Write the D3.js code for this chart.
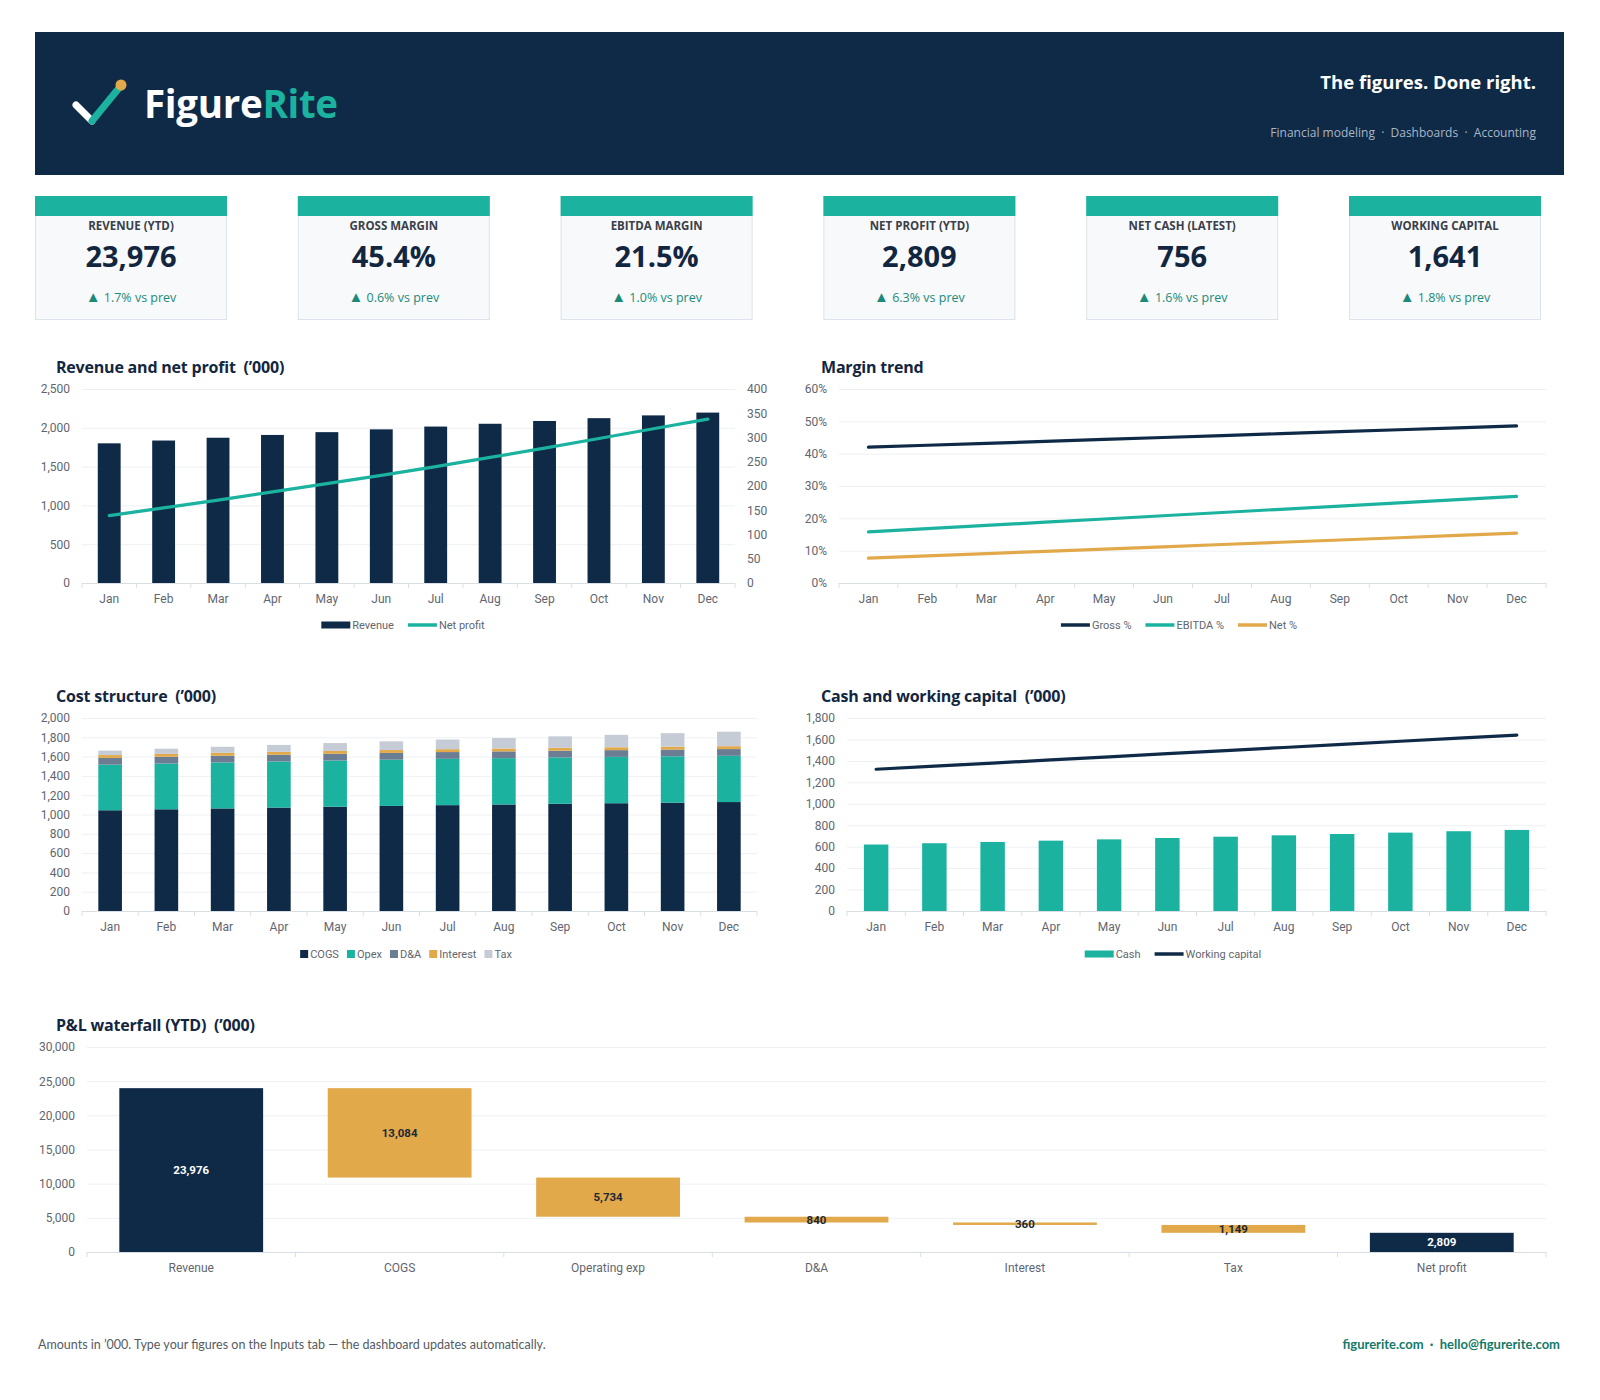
<!DOCTYPE html>
<html>
<head>
<meta charset="utf-8">
<script src="https://cdn.jsdelivr.net/npm/d3@7"></script>
<style>
  body { margin: 0; background: #fff; }
  svg { display: block; }
  text { white-space: pre; }
</style>
</head>
<body>
<div id="body"></div>
<script>
// data
const months = ['Jan', 'Feb', 'Mar', 'Apr', 'May', 'Jun', 'Jul', 'Aug', 'Sep', 'Oct', 'Nov', 'Dec'];
const revenue = [1800, 1836, 1872, 1908, 1944, 1980, 2016, 2052, 2088, 2124, 2160, 2196];
const netProfit = [139, 155, 171, 188, 205, 222, 240, 259, 278, 298, 318, 338];
const grossPct = [42.0, 42.6, 43.2, 43.8, 44.4, 45.0, 45.6, 46.2, 46.8, 47.4, 48.0, 48.6];
const ebitdaPct = [15.8, 16.8, 17.8, 18.8, 19.8, 20.8, 21.8, 22.8, 23.8, 24.8, 25.8, 26.8];
const netPct = [7.7, 8.4, 9.1, 9.8, 10.5, 11.2, 11.9, 12.6, 13.3, 14.0, 14.7, 15.4];
const cogs = [1044, 1054, 1063, 1072, 1081, 1089, 1097, 1104, 1111, 1117, 1123, 1129];
const opex = [472, 474, 476, 477, 478, 479, 480, 480, 480, 480, 480, 479];
const depAm = [70, 70, 70, 70, 70, 70, 70, 70, 70, 70, 70, 70];
const interest = [30, 30, 30, 30, 30, 30, 30, 30, 30, 30, 30, 30];
const tax = [46, 54, 63, 72, 81, 90, 100, 109, 119, 129, 140, 150];
const cash = [620, 632, 644, 656, 668, 681, 693, 706, 718, 731, 744, 756];
const workingCap = [1322, 1351, 1380, 1409, 1438, 1467, 1496, 1525, 1554, 1583, 1612, 1641];

const wfCategories = ['Revenue', 'COGS', 'Operating exp', 'D&A', 'Interest', 'Tax', 'Net profit'];
const wfValues = [23976, 13084, 5734, 840, 360, 1149, 2809];
const wfKind = ['total', 'down', 'down', 'down', 'down', 'down', 'total'];

const kpiLabels = ['REVENUE (YTD)', 'GROSS MARGIN', 'EBITDA MARGIN', 'NET PROFIT (YTD)', 'NET CASH (LATEST)', 'WORKING CAPITAL'];
const kpiValues = ['23,976', '45.4%', '21.5%', '2,809', '756', '1,641'];
const kpiDeltas = ['1.7%', '0.6%', '1.0%', '6.3%', '1.6%', '1.8%'];

const navy = '#0f2a47';
const teal = '#1bb3a0';
const gold = '#e2a94b';
const slate = '#6b7d92';
const mist = '#c6ccd6';
const narrow = "'Liberation Sans Narrow', 'Arial Narrow', Roboto, sans-serif";
const ui = "'Open Sans', 'Noto Sans', sans-serif";

const svg = d3.select('#body')
    .append('svg')
    .attr('width', 1600)
    .attr('height', 1400)
    .style('background', '#fff');

// Header band
function makeHeader () {
  svg.append('rect')
      .attr('x', 35).attr('y', 32)
      .attr('width', 1529).attr('height', 143)
      .attr('fill', navy);

  // tick mark logo
  svg.append('line')
      .attr('x1', 76).attr('y1', 105).attr('x2', 92).attr('y2', 121)
      .attr('stroke', '#fff').attr('stroke-width', 7).attr('stroke-linecap', 'round');
  svg.append('line')
      .attr('x1', 92).attr('y1', 121).attr('x2', 119).attr('y2', 88)
      .attr('stroke', teal).attr('stroke-width', 7).attr('stroke-linecap', 'round');
  svg.append('circle')
      .attr('cx', 121).attr('cy', 85).attr('r', 5.5)
      .attr('fill', gold);

  const brand = svg.append('text')
      .attr('x', 144).attr('y', 118)
      .attr('font-family', ui).attr('font-weight', 700).attr('font-size', 38.5)
      .attr('letter-spacing', -0.3)
      .attr('fill', '#fff');
  brand.append('tspan').text('Figure');
  brand.append('tspan').attr('fill', teal).text('Rite');

  svg.append('text')
      .attr('x', 1536).attr('y', 89)
      .attr('text-anchor', 'end')
      .attr('font-family', ui).attr('font-weight', 700).attr('font-size', 18.5)
      .attr('fill', '#fff')
      .text('The figures. Done right.');

  svg.append('text')
      .attr('x', 1536).attr('y', 137)
      .attr('text-anchor', 'end')
      .attr('font-family', ui).attr('font-size', 12)
      .attr('fill', '#a9b6c6')
      .text('Financial modeling  \u00b7  Dashboards  \u00b7  Accounting');
}

// KPI cards
function makeCards () {
  const xCard = d3.scaleBand().domain(kpiLabels).range([35, 1540 + 71.8]).paddingInner(0);
  kpiLabels.forEach(function (label, i) {
    const g = svg.append('g').attr('transform', 'translate(' + xCard(label) + ',196)');
    g.append('rect')
        .attr('x', 0.5).attr('y', 0.5).attr('width', 191).attr('height', 123)
        .attr('fill', '#f7f9fb').attr('stroke', '#dde3ea');
    g.append('rect')
        .attr('x', 0).attr('y', 0).attr('width', 192).attr('height', 20)
        .attr('fill', teal);
    g.append('text')
        .attr('x', 96).attr('y', 34)
        .attr('text-anchor', 'middle')
        .attr('font-family', ui).attr('font-weight', 700).attr('font-size', 11.5)
        .attr('fill', '#3a4049')
        .text(label);
    g.append('text')
        .attr('x', 96).attr('y', 71)
        .attr('text-anchor', 'middle')
        .attr('font-family', ui).attr('font-weight', 700).attr('font-size', 29)
        .attr('fill', '#12263f')
        .text(kpiValues[i]);
    const d = g.append('text')
        .attr('x', 96).attr('y', 106)
        .attr('text-anchor', 'middle')
        .attr('font-family', ui).attr('font-size', 12.5)
        .attr('fill', '#1c8a7a');
    d.append('tspan').attr('font-size', 15).text('\u25B2');
    d.append('tspan').text(' ' + kpiDeltas[i] + ' vs prev');
  });
}

function chartTitle (x, y, text) {
  svg.append('text')
      .attr('x', x).attr('y', y)
      .attr('font-family', ui).attr('font-weight', 700).attr('font-size', 16)
      .attr('letter-spacing', -0.2)
      .attr('fill', '#12263f')
      .text(text);
}

function styleAxis (g) {
  g.select('.domain').remove();
  g.selectAll('text')
      .attr('font-family', narrow).attr('font-size', 12)
      .attr('fill', '#5f6670');
}

// y gridlines + left labels
function leftAxis (x0, x1, y, ticks, fmt) {
  svg.append('g')
      .attr('transform', 'translate(' + x0 + ',0)')
      .call(d3.axisLeft(y).tickValues(ticks).tickSize(-(x1 - x0)).tickFormat(''))
      .call(function (g) {
        g.select('.domain').remove();
        g.selectAll('line').attr('stroke', '#eef0f3');
      });
  svg.append('g')
      .attr('transform', 'translate(' + x0 + ',0)')
      .call(d3.axisLeft(y).tickValues(ticks).tickSize(0).tickPadding(12).tickFormat(fmt))
      .call(styleAxis);
}

// baseline with category boundary ticks
function bottomAxis (x, y0) {
  const r = x.range();
  svg.append('line')
      .attr('x1', r[0]).attr('x2', r[1]).attr('y1', y0 + 0.5).attr('y2', y0 + 0.5)
      .attr('stroke', '#d9dee5').attr('stroke-width', 1.2);
  const edges = x.domain().map(function (d) { return x(d); }).concat([r[1]]);
  svg.append('g').selectAll('line')
      .data(edges)
      .join('line')
      .attr('x1', function (d) { return d; }).attr('x2', function (d) { return d; })
      .attr('y1', y0).attr('y2', y0 + 5)
      .attr('stroke', '#d9dee5');
  svg.append('g')
      .attr('transform', 'translate(0,' + y0 + ')')
      .call(d3.axisBottom(x).tickSize(0).tickPadding(11))
      .call(styleAxis);
}

// legend centered at cx
function legend (cx, cy, items) {
  const g = svg.append('g');
  let pos = 0;
  items.forEach(function (it) {
    const sw = it.type === 'square' ? 8 : 29;
    if (it.type === 'line') {
      g.append('line')
          .attr('x1', pos).attr('x2', pos + sw).attr('y1', cy).attr('y2', cy)
          .attr('stroke', it.color).attr('stroke-width', 3.5);
    } else if (it.type === 'square') {
      g.append('rect')
          .attr('x', pos).attr('y', cy - 4).attr('width', 8).attr('height', 8)
          .attr('fill', it.color);
    } else {
      g.append('rect')
          .attr('x', pos).attr('y', cy - 3.5).attr('width', sw).attr('height', 7)
          .attr('fill', it.color);
    }
    const t = g.append('text')
        .attr('x', pos + sw + 2).attr('y', cy + 4)
        .attr('font-family', narrow).attr('font-size', 11)
        .attr('fill', '#5f6670')
        .text(it.label);
    pos += sw + 2 + t.node().getComputedTextLength() + (it.type === 'square' ? 8 : 14);
  });
  g.attr('transform', 'translate(' + (cx - pos / 2) + ',0)');
}

// Revenue and net profit
function revenueChart () {
  chartTitle(56, 373, 'Revenue and net profit  (\u2019000)');
  const x = d3.scaleBand().domain(months).range([82, 735]);
  const y = d3.scaleLinear().domain([0, 2500]).range([583, 389]);
  const y2 = d3.scaleLinear().domain([0, 400]).range([583, 389]);
  leftAxis(82, 735, y, d3.range(0, 2501, 500), d3.format(','));
  svg.append('g')
      .attr('transform', 'translate(735,0)')
      .call(d3.axisRight(y2).tickValues(d3.range(0, 401, 50)).tickSize(0).tickPadding(12))
      .call(styleAxis);
  const bw = x.bandwidth() * 0.42;
  svg.append('g').selectAll('rect')
      .data(revenue)
      .join('rect')
      .attr('x', function (d, i) { return x(months[i]) + (x.bandwidth() - bw) / 2; })
      .attr('y', function (d) { return y(d); })
      .attr('width', bw)
      .attr('height', function (d) { return y(0) - y(d); })
      .attr('fill', navy);
  bottomAxis(x, 583);
  svg.append('path')
      .datum(netProfit)
      .attr('fill', 'none').attr('stroke', teal).attr('stroke-width', 3.2)
      .attr('stroke-linecap', 'round')
      .attr('d', d3.line()
        .x(function (d, i) { return x(months[i]) + x.bandwidth() / 2; })
        .y(function (d) { return y2(d); }));
  legend(410, 625, [
    { label: 'Revenue', type: 'rect', color: navy },
    { label: 'Net profit', type: 'line', color: teal }
  ]);
}

// Margin trend
function marginChart () {
  chartTitle(821, 373, 'Margin trend');
  const x = d3.scaleBand().domain(months).range([839, 1546]);
  const y = d3.scaleLinear().domain([0, 60]).range([583, 389]);
  leftAxis(839, 1546, y, d3.range(0, 61, 10), function (d) { return d + '%'; });
  bottomAxis(x, 583);
  const series = [
    { values: grossPct, color: navy },
    { values: ebitdaPct, color: teal },
    { values: netPct, color: gold }
  ];
  const line = d3.line()
      .x(function (d, i) { return x(months[i]) + x.bandwidth() / 2; })
      .y(function (d) { return y(d); });
  svg.append('g').selectAll('path')
      .data(series)
      .join('path')
      .attr('fill', 'none')
      .attr('stroke', function (s) { return s.color; })
      .attr('stroke-width', 3.2)
      .attr('stroke-linecap', 'round')
      .attr('d', function (s) { return line(s.values); });
  legend(1186, 625, [
    { label: 'Gross %', type: 'line', color: navy },
    { label: 'EBITDA %', type: 'line', color: teal },
    { label: 'Net %', type: 'line', color: gold }
  ]);
}

// Cost structure (stacked)
function costChart () {
  chartTitle(56, 702, 'Cost structure  (\u2019000)');
  const x = d3.scaleBand().domain(months).range([82, 757]);
  const y = d3.scaleLinear().domain([0, 2000]).range([911, 718]);
  leftAxis(82, 757, y, d3.range(0, 2001, 200), d3.format(','));
  const keys = ['COGS', 'Opex', 'D&A', 'Interest', 'Tax'];
  const colors = [navy, teal, slate, gold, mist];
  const rows = months.map(function (m, i) {
    return { month: m, COGS: cogs[i], Opex: opex[i], 'D&A': depAm[i], Interest: interest[i], Tax: tax[i] };
  });
  const stacked = d3.stack().keys(keys)(rows);
  const bw = x.bandwidth() * 0.42;
  svg.append('g').selectAll('g')
      .data(stacked)
      .join('g')
      .attr('fill', function (s, k) { return colors[k]; })
      .selectAll('rect')
      .data(function (s) { return s; })
      .join('rect')
      .attr('x', function (d) { return x(d.data.month) + (x.bandwidth() - bw) / 2; })
      .attr('y', function (d) { return y(d[1]); })
      .attr('width', bw)
      .attr('height', function (d) { return y(d[0]) - y(d[1]); });
  bottomAxis(x, 911);
  legend(410, 954, keys.map(function (k, i) {
    return { label: k, type: 'square', color: colors[i] };
  }));
}

// Cash and working capital
function cashChart () {
  chartTitle(821, 702, 'Cash and working capital  (\u2019000)');
  const x = d3.scaleBand().domain(months).range([847, 1546]);
  const y = d3.scaleLinear().domain([0, 1800]).range([911, 718]);
  leftAxis(847, 1546, y, d3.range(0, 1801, 200), d3.format(','));
  const bw = x.bandwidth() * 0.42;
  svg.append('g').selectAll('rect')
      .data(cash)
      .join('rect')
      .attr('x', function (d, i) { return x(months[i]) + (x.bandwidth() - bw) / 2; })
      .attr('y', function (d) { return y(d); })
      .attr('width', bw)
      .attr('height', function (d) { return y(0) - y(d); })
      .attr('fill', teal);
  bottomAxis(x, 911);
  svg.append('path')
      .datum(workingCap)
      .attr('fill', 'none').attr('stroke', navy).attr('stroke-width', 3.2)
      .attr('stroke-linecap', 'round')
      .attr('d', d3.line()
        .x(function (d, i) { return x(months[i]) + x.bandwidth() / 2; })
        .y(function (d) { return y(d); }));
  legend(1180, 954, [
    { label: 'Cash', type: 'rect', color: teal },
    { label: 'Working capital', type: 'line', color: navy }
  ]);
}

// P&L waterfall
function waterfallChart () {
  chartTitle(56, 1031, 'P&L waterfall (YTD)  (\u2019000)');
  const x = d3.scaleBand().domain(wfCategories).range([87, 1546]);
  const y = d3.scaleLinear().domain([0, 30000]).range([1252, 1047]);
  leftAxis(87, 1546, y, d3.range(0, 30001, 5000), d3.format(','));
  let running = 0;
  const steps = wfValues.map(function (v, i) {
    let lo, hi;
    if (wfKind[i] === 'total') {
      lo = 0; hi = v; running = v;
    } else {
      hi = running; lo = running - v; running = lo;
    }
    return { cat: wfCategories[i], value: v, lo: lo, hi: hi, kind: wfKind[i] };
  });
  const bw = x.bandwidth() * 0.69;
  const g = svg.append('g');
  g.selectAll('rect')
      .data(steps)
      .join('rect')
      .attr('x', function (d) { return x(d.cat) + (x.bandwidth() - bw) / 2; })
      .attr('y', function (d) { return y(d.hi); })
      .attr('width', bw)
      .attr('height', function (d) { return Math.max(1.5, y(d.lo) - y(d.hi)); })
      .attr('fill', function (d) { return d.kind === 'total' ? navy : gold; });
  bottomAxis(x, 1252);
  g.selectAll('text')
      .data(steps)
      .join('text')
      .attr('x', function (d) { return x(d.cat) + x.bandwidth() / 2; })
      .attr('y', function (d) { return (y(d.lo) + y(d.hi)) / 2 + 4; })
      .attr('text-anchor', 'middle')
      .attr('font-family', narrow).attr('font-weight', 700).attr('font-size', 11.5)
      .attr('fill', function (d) { return d.kind === 'total' ? '#fff' : '#1d2733'; })
      .text(function (d) { return d3.format(',')(d.value); });
}

function makeFooter () {
  svg.append('text')
      .attr('x', 38).attr('y', 1349)
      .attr('font-family', "Lato, 'Open Sans', sans-serif").attr('font-size', 12.5)
      .attr('fill', '#555b63')
      .text('Amounts in \u2019000. Type your figures on the Inputs tab \u2014 the dashboard updates automatically.');
  svg.append('text')
      .attr('x', 1560).attr('y', 1349)
      .attr('text-anchor', 'end')
      .attr('font-family', "Lato, 'Open Sans', sans-serif").attr('font-weight', 700).attr('font-size', 13)
      .attr('fill', '#137a69')
      .text('figurerite.com  \u00b7  hello@figurerite.com');
}

makeHeader();
makeCards();
revenueChart();
marginChart();
costChart();
cashChart();
waterfallChart();
makeFooter();
</script>
</body>
</html>
